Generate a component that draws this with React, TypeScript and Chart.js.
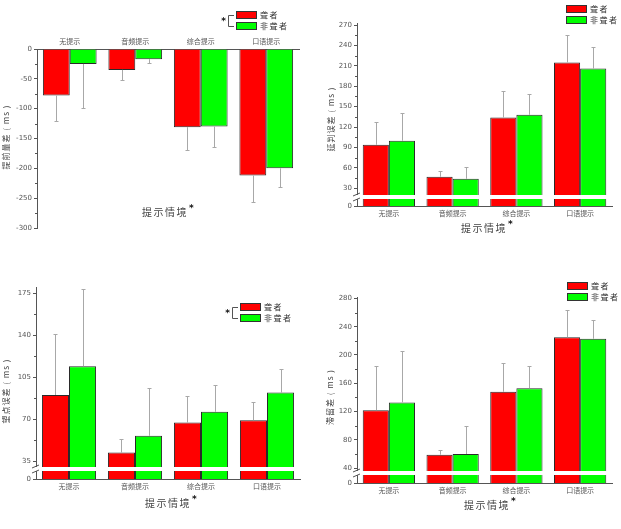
import React, { useEffect, useRef } from "react";
import { Chart, registerables } from "chart.js";

Chart.register(...registerables);

// ---- shared labels ----
const categories = ["无提示", "音频提示", "综合提示", "口语提示"];
const groups = ["聋者", "非聋者"];
const xTitleText = "提示情境";

// ---- panel A: lead difference (negative values) ----
const aDeaf = [-78, -35, -131, -212];
const aDeafSD = [42, 17, 39, 44];
const aHearing = [-25, -17, -130, -200];
const aHearingSD = [74, 7, 35, 32];
const aTicks = [0, -50, -100, -150, -200, -250, -300];
const aMinor = [-25, -75, -125, -175, -225, -275];

// ---- panel B ----
const bDeaf = [94, 47, 134, 215];
const bDeafSD = [34, 9, 39, 40];
const bHearing = [100, 44, 138, 206];
const bHearingSD = [40, 18, 30, 31];
const bTicks = [4, 30, 60, 90, 120, 150, 180, 210, 240, 270];
const bMinor = [45, 75, 105, 135, 165, 195, 225, 255];

// ---- panel C ----
const cDeaf = [90, 42, 67, 69];
const cDeafSD = [51, 11, 22, 15];
const cHearing = [114, 56, 76, 92];
const cHearingSD = [64, 40, 22, 20];
const cTicks = [20, 35, 70, 105, 140, 175];
const cMinor = [52.5, 87.5, 122.5, 157.5];

// ---- panel D ----
const dDeaf = [122, 59, 148, 225];
const dDeafSD = [63, 7, 41, 39];
const dHearing = [133, 60, 153, 223];
const dHearingSD = [73, 39, 31, 27];
const dTicks = [19, 40, 80, 120, 160, 200, 240, 280];
const dMinor = [60, 100, 140, 180, 220, 260];

const seriesColors = ["#ff0000", "#00ff00"];
const axisColor = "#555";
const cjk = "'Noto Sans CJK SC', 'Noto Sans', sans-serif";

type Spec = {
  key: string;
  box: { x: number; y: number; w: number; h: number };
  area: { l: number; t: number; r: number; b: number };
  min: number;
  max: number;
  ticks: number[];
  minor: number[];
  zeroAt?: number;
  breakAt?: number;
  xTop: boolean;
  yTitle: string;
  yTitlePos: [number, number];
  xTitlePos: [number, number];
  legend: { x: number; y: number; bracket: boolean };
  deaf: number[];
  deafSD: number[];
  hearing: number[];
  hearingSD: number[];
};

const specs: Spec[] = [
  {
    key: "a",
    box: { x: 0, y: 0, w: 310, h: 260 },
    area: { l: 37, t: 49, r: 299, b: 228 },
    min: -300,
    max: 0,
    ticks: aTicks,
    minor: aMinor,
    xTop: true,
    yTitle: "提前量差 ( ms )",
    yTitlePos: [6, 137],
    xTitlePos: [165, 212],
    legend: { x: 236, y: 11, bracket: true },
    deaf: aDeaf,
    deafSD: aDeafSD,
    hearing: aHearing,
    hearingSD: aHearingSD,
  },
  {
    key: "b",
    box: { x: 310, y: 0, w: 311, h: 260 },
    area: { l: 47, t: 23, r: 302, b: 206 },
    min: 4,
    max: 273,
    ticks: bTicks,
    minor: bMinor,
    zeroAt: 4,
    breakAt: 17,
    xTop: false,
    yTitle: "延判误差 ( ms )",
    yTitlePos: [21, 119],
    xTitlePos: [174, 228],
    legend: { x: 256, y: 5, bracket: false },
    deaf: bDeaf,
    deafSD: bDeafSD,
    hearing: bHearing,
    hearingSD: bHearingSD,
  },
  {
    key: "c",
    box: { x: 0, y: 260, w: 310, h: 269 },
    area: { l: 36, t: 27, r: 300, b: 219 },
    min: 20,
    max: 180,
    ticks: cTicks,
    minor: cMinor,
    zeroAt: 20,
    breakAt: 28.3,
    xTop: false,
    yTitle: "望点误差 ( ms )",
    yTitlePos: [6, 131],
    xTitlePos: [168, 243],
    legend: { x: 240, y: 43, bracket: true },
    deaf: cDeaf,
    deafSD: cDeafSD,
    hearing: cHearing,
    hearingSD: cHearingSD,
  },
  {
    key: "d",
    box: { x: 310, y: 260, w: 311, h: 269 },
    area: { l: 47, t: 37, r: 302, b: 223 },
    min: 19,
    max: 282,
    ticks: dTicks,
    minor: dMinor,
    zeroAt: 19,
    breakAt: 32.5,
    xTop: false,
    yTitle: "滞留差 ( ms )",
    yTitlePos: [20, 137],
    xTitlePos: [177, 245],
    legend: { x: 257, y: 22, bracket: false },
    deaf: dDeaf,
    deafSD: dDeafSD,
    hearing: dHearing,
    hearingSD: dHearingSD,
  },
];

// Axis break, error bars, minor ticks, titles and legend
const decorPlugin = {
  id: "decor",
  afterDatasetsDraw(chart: any, _args: any, opts: any) {
    const s: Spec = opts.spec;
    const ctx: CanvasRenderingContext2D = chart.ctx;
    const yScale = chart.scales.y;
    const area = chart.chartArea;
    ctx.save();
    if (s.breakAt !== undefined) {
      const py = Math.round(yScale.getPixelForValue(s.breakAt));
      ctx.fillStyle = "#ffffff";
      ctx.fillRect(area.left - 5, py - 2, area.right - area.left + 5, 4);
      ctx.strokeStyle = axisColor;
      ctx.lineWidth = 1;
      ctx.beginPath();
      for (const dy of [-2.5, 2.5]) {
        ctx.moveTo(area.left - 4, py + dy + 1.5);
        ctx.lineTo(area.left + 3, py + dy - 1.5);
      }
      ctx.stroke();
    }
    const sds = [s.deafSD, s.hearingSD];
    ctx.strokeStyle = "#a8a8a8";
    ctx.lineWidth = 1;
    [0, 1].forEach((d) => {
      const meta = chart.getDatasetMeta(d);
      const vals = chart.data.datasets[d].data as number[];
      meta.data.forEach((el: any, i: number) => {
        const v = vals[i];
        const end = v < 0 ? v - sds[d][i] : v + sds[d][i];
        const x = Math.round(el.x) + 0.5;
        const y0 = yScale.getPixelForValue(v);
        const y1 = Math.round(yScale.getPixelForValue(end)) + 0.5;
        ctx.beginPath();
        ctx.moveTo(x, y0);
        ctx.lineTo(x, y1);
        ctx.moveTo(x - 2, y1);
        ctx.lineTo(x + 2, y1);
        ctx.stroke();
      });
    });
    ctx.restore();
  },
  afterDraw(chart: any, _args: any, opts: any) {
    const s: Spec = opts.spec;
    const ctx: CanvasRenderingContext2D = chart.ctx;
    const yScale = chart.scales.y;
    const area = chart.chartArea;
    ctx.save();
    // minor ticks
    ctx.strokeStyle = axisColor;
    ctx.lineWidth = 1;
    ctx.beginPath();
    s.minor.forEach((v) => {
      const py = Math.round(yScale.getPixelForValue(v)) + 0.5;
      ctx.moveTo(area.left - 2, py);
      ctx.lineTo(area.left, py);
    });
    ctx.stroke();

    // y title (rotated)
    ctx.fillStyle = "#444";
    ctx.font = `8px ${cjk}`;
    (ctx as any).letterSpacing = "1px";
    ctx.textAlign = "center";
    ctx.textBaseline = "middle";
    ctx.translate(s.yTitlePos[0], s.yTitlePos[1]);
    ctx.rotate(-Math.PI / 2);
    ctx.fillText(s.yTitle, 0, 0);
    ctx.setTransform(1, 0, 0, 1, 0, 0);

    // x title with asterisk
    ctx.font = `10px ${cjk}`;
    (ctx as any).letterSpacing = "1.5px";
    ctx.fillStyle = "#444";
    const [tx, ty] = s.xTitlePos;
    ctx.fillText(xTitleText, tx, ty);
    const tw = ctx.measureText(xTitleText).width;
    (ctx as any).letterSpacing = "0px";
    ctx.font = `bold 9px 'DejaVu Sans', sans-serif`;
    ctx.fillStyle = "#111";
    ctx.textAlign = "left";
    ctx.fillText("*", tx + tw / 2 + 1, ty - 3);

    // legend
    const { x, y, bracket } = s.legend;
    const bw = 21;
    const bh = 8;
    const gap = 11;
    seriesColors.forEach((c, i) => {
      const by = y + i * gap;
      ctx.fillStyle = c;
      ctx.fillRect(x, by, bw, bh);
      ctx.strokeStyle = "#333";
      ctx.lineWidth = 1;
      ctx.strokeRect(x + 0.5, by + 0.5, bw - 1, bh - 1);
      ctx.fillStyle = "#333";
      ctx.font = `8px ${cjk}`;
      (ctx as any).letterSpacing = "1.5px";
      ctx.textAlign = "left";
      ctx.textBaseline = "middle";
      ctx.fillText(groups[i], x + bw + 3, by + bh / 2);
    });
    if (bracket) {
      const y1 = Math.round(y + bh / 2) + 0.5;
      const y2 = Math.round(y + gap + bh / 2) + 0.5;
      const bx = x - 7.5;
      ctx.strokeStyle = "#555";
      ctx.beginPath();
      ctx.moveTo(x - 2, y1);
      ctx.lineTo(bx, y1);
      ctx.lineTo(bx, y2);
      ctx.lineTo(x - 2, y2);
      ctx.stroke();
      (ctx as any).letterSpacing = "0px";
      ctx.fillStyle = "#111";
      ctx.font = `bold 9px 'DejaVu Sans', sans-serif`;
      ctx.textAlign = "center";
      ctx.fillText("*", bx - 5, (y1 + y2) / 2 + 1);
    }
    ctx.restore();
  },
};

function Panel({ spec }: { spec: Spec }) {
  const ref = useRef<HTMLCanvasElement>(null);
  useEffect(() => {
    const s = spec;
    const { w, h } = s.box;
    const chart = new Chart(ref.current!, {
      type: "bar",
      data: {
        labels: categories,
        datasets: [
          {
            label: groups[0],
            data: s.deaf,
            backgroundColor: seriesColors[0],
            borderColor: "#2a2a2a",
            borderWidth: 1,
          },
          {
            label: groups[1],
            data: s.hearing,
            backgroundColor: seriesColors[1],
            borderColor: "#2a2a2a",
            borderWidth: 1,
          },
        ],
      },
      options: {
        responsive: false,
        animation: false,
        devicePixelRatio: 1,
        layout: {
          padding: s.xTop
            ? { top: 0, bottom: h - s.area.b, left: 0, right: w - s.area.r }
            : { top: s.area.t, bottom: 0, left: 0, right: w - s.area.r },
        },
        datasets: {
          bar: { categoryPercentage: 0.82, barPercentage: 1.0 },
        },
        plugins: {
          legend: { display: false },
          tooltip: { enabled: false },
          decor: { spec: s },
        } as any,
        scales: {
          x: {
            type: "category",
            position: s.xTop ? "top" : "bottom",
            offset: true,
            grid: { display: false, drawTicks: false },
            border: { display: true, color: axisColor, width: 1 },
            ticks: {
              color: "#555",
              font: { size: 7, family: cjk },
              padding: 3,
              maxRotation: 0,
              autoSkip: false,
            },
            afterFit: (scale: any) => {
              scale.height = s.xTop ? s.area.t : h - s.area.b;
            },
          },
          y: {
            type: "linear",
            min: s.min,
            max: s.max,
            grid: {
              drawOnChartArea: false,
              drawTicks: true,
              tickLength: 3,
              color: axisColor,
            },
            border: { display: true, color: axisColor, width: 1 },
            ticks: {
              color: "#555",
              font: { size: 7, family: "'DejaVu Sans', sans-serif" },
              padding: 2,
              callback: (v: any) =>
                s.zeroAt !== undefined && v === s.zeroAt ? "0" : String(v),
            },
            afterBuildTicks: (scale: any) => {
              scale.ticks = s.ticks.map((v) => ({ value: v }));
            },
            afterFit: (scale: any) => {
              scale.width = s.area.l;
            },
          },
        },
      },
      plugins: [decorPlugin as any],
    });
    return () => chart.destroy();
  }, [spec]);
  return (
    <canvas
      ref={ref}
      width={spec.box.w}
      height={spec.box.h}
      style={{
        position: "absolute",
        left: spec.box.x,
        top: spec.box.y,
        width: spec.box.w,
        height: spec.box.h,
        display: "block",
      }}
    />
  );
}

export default function App() {
  return (
    <div
      style={{
        position: "absolute",
        left: 0,
        top: 0,
        width: 621,
        height: 529,
        background: "#ffffff",
        overflow: "hidden",
      }}
    >
      {specs.map((s) => (
        <Panel key={s.key} spec={s} />
      ))}
    </div>
  );
}
